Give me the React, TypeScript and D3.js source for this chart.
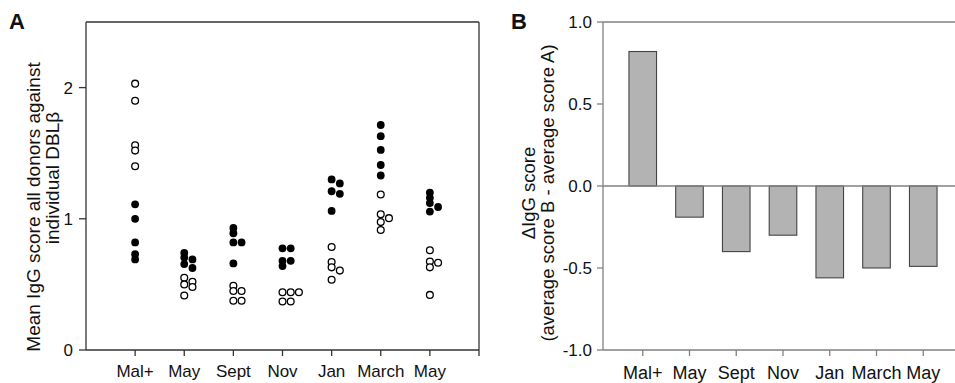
import React from "react";
import * as d3 from "d3";

// categories (same for both panels)
const categories = ["Mal+", "May", "Sept", "Nov", "Jan", "March", "May"];

// panel A: mean IgG score per DBLβ, open and filled groups
const openScores = [
  [2.03, 1.9, 1.56, 1.52, 1.4],
  [0.55, 0.52, 0.5, 0.48, 0.415],
  [0.49, 0.45, 0.45, 0.375, 0.375],
  [0.44, 0.44, 0.44, 0.37, 0.37],
  [0.785, 0.67, 0.63, 0.605, 0.535],
  [1.185, 1.035, 1.005, 0.975, 0.915],
  [0.76, 0.675, 0.665, 0.63, 0.42],
];
const filledScores = [
  [1.11, 1.0, 0.82, 0.73, 0.69],
  [0.74, 0.705, 0.69, 0.655, 0.625],
  [0.93, 0.89, 0.82, 0.82, 0.66],
  [0.775, 0.775, 0.68, 0.68, 0.64],
  [1.3, 1.27, 1.21, 1.19, 1.06],
  [1.715, 1.63, 1.525, 1.41, 1.33],
  [1.2, 1.16, 1.12, 1.09, 1.055],
];
const yTicksA = [0, 1, 2];

// panel B: delta IgG score (average B - average A)
const deltaScores = [0.82, -0.19, -0.4, -0.3, -0.56, -0.5, -0.49];
const yTicksB = [-1.0, -0.5, 0.0, 0.5, 1.0];

const FONT = "Liberation Sans, Arial, Helvetica, sans-serif";

type Dot = { v: number; filled: boolean; x: number; y: number };

export default function App() {
  const idx = d3.range(categories.length);

  // ---- panel A scales
  const xA = d3.scalePoint<number>().domain(idx).range([86, 479]).padding(1);
  const yA = d3.scaleLinear().domain([0, 2.5]).range([350, 22]);

  // simple dot stacking: shift right when a dot sits too close to one above
  const dots: Dot[] = [];
  idx.forEach((i) => {
    const pts = [
      ...openScores[i].map((v) => ({ v, filled: false })),
      ...filledScores[i].map((v) => ({ v, filled: true })),
    ].sort((a, b) => b.v - a.v);
    const slots: number[][] = [];
    pts.forEach((p) => {
      const y = yA(p.v);
      let s = 0;
      while (slots[s] && slots[s].some((py) => Math.abs(py - y) < 4.5)) s++;
      (slots[s] = slots[s] || []).push(y);
      dots.push({ ...p, x: (xA(i) as number) + s * 8.2, y });
    });
  });

  // ---- panel B scales
  const xB = d3.scalePoint<number>().domain(idx).range([603, 963]).padding(0.85);
  const yB = d3.scaleLinear().domain([-1, 1]).range([350, 22]);
  const barW = xB.step() * 0.59;

  const lineA = "#333";
  const lineB = "#808080";

  return (
    <svg
      width={955}
      height={383}
      style={{ position: "absolute", left: 0, top: 0, background: "#fff" }}
      fontFamily={FONT}
    >
      {/* ===== Panel A ===== */}
      <text x={9} y={29} fontSize={22} fontWeight="bold" fill="#111">A</text>

      <g stroke={lineA} strokeWidth={1.3} fill="none">
        <line x1={86} x2={479} y1={22} y2={22} />
        <line x1={86} x2={86} y1={22} y2={350} />
        <line x1={479} x2={479} y1={22} y2={356} />
        <line x1={86} x2={479} y1={350} y2={350} />
        {yTicksA.map((t) => (
          <line key={t} x1={79} x2={86} y1={yA(t)} y2={yA(t)} />
        ))}
        {idx.map((i) => (
          <line key={i} x1={xA(i)} x2={xA(i)} y1={350} y2={356} />
        ))}
      </g>
      {yTicksA.map((t) => (
        <text key={t} x={73} y={yA(t) + 6} fontSize={17} textAnchor="end" fill="#111">
          {t}
        </text>
      ))}
      {categories.map((c, i) => (
        <text key={i} x={xA(i)} y={377} fontSize={17} textAnchor="middle" fill="#111">
          {c}
        </text>
      ))}
      <text
        transform="translate(40,207) rotate(-90)"
        fontSize={19}
        textAnchor="middle"
        fill="#111"
      >
        Mean IgG score all donors against
      </text>
      <text
        transform="translate(59,178) rotate(-90)"
        fontSize={19}
        textAnchor="middle"
        fill="#111"
      >
        individual DBLβ
      </text>

      {dots.map((d, k) => (
        <circle
          key={k}
          cx={d.x}
          cy={d.y}
          r={d.filled ? 3.9 : 3.4}
          fill={d.filled ? "#000" : "#fff"}
          stroke="#000"
          strokeWidth={d.filled ? 0 : 1.3}
        />
      ))}

      {/* ===== Panel B ===== */}
      <text x={511} y={29} fontSize={22} fontWeight="bold" fill="#111">B</text>

      {deltaScores.map((v, i) => (
        <rect
          key={i}
          x={(xB(i) as number) - barW / 2}
          y={yB(Math.max(0, v))}
          width={barW}
          height={Math.abs(yB(v) - yB(0))}
          fill="#b3b3b3"
          stroke="#444"
          strokeWidth={1.1}
        />
      ))}

      <g stroke={lineB} strokeWidth={1.3} fill="none">
        <line x1={603} x2={955} y1={22} y2={22} />
        <line x1={603} x2={603} y1={22} y2={350} />
        <line x1={603} x2={955} y1={yB(0)} y2={yB(0)} />
        <line x1={603} x2={955} y1={350} y2={350} />
        {yTicksB.map((t) => (
          <line key={t} x1={597} x2={603} y1={yB(t)} y2={yB(t)} />
        ))}
        {idx.map((i) => (
          <line key={i} x1={xB(i)} x2={xB(i)} y1={350} y2={356} />
        ))}
      </g>
      {yTicksB.map((t) => (
        <text key={t} x={592} y={yB(t) + 6} fontSize={17} textAnchor="end" fill="#111">
          {d3.format(".1f")(t).replace("−", "-")}
        </text>
      ))}
      {categories.map((c, i) => (
        <text key={i} x={xB(i)} y={379} fontSize={18} textAnchor="middle" fill="#111">
          {c}
        </text>
      ))}
      <text
        transform="translate(535,193) rotate(-90)"
        fontSize={18.5}
        textAnchor="middle"
        fill="#111"
      >
        ΔIgG score
      </text>
      <text
        transform="translate(554,193) rotate(-90)"
        fontSize={18.5}
        textAnchor="middle"
        fill="#111"
      >
        (average score B - average score A)
      </text>
    </svg>
  );
}
